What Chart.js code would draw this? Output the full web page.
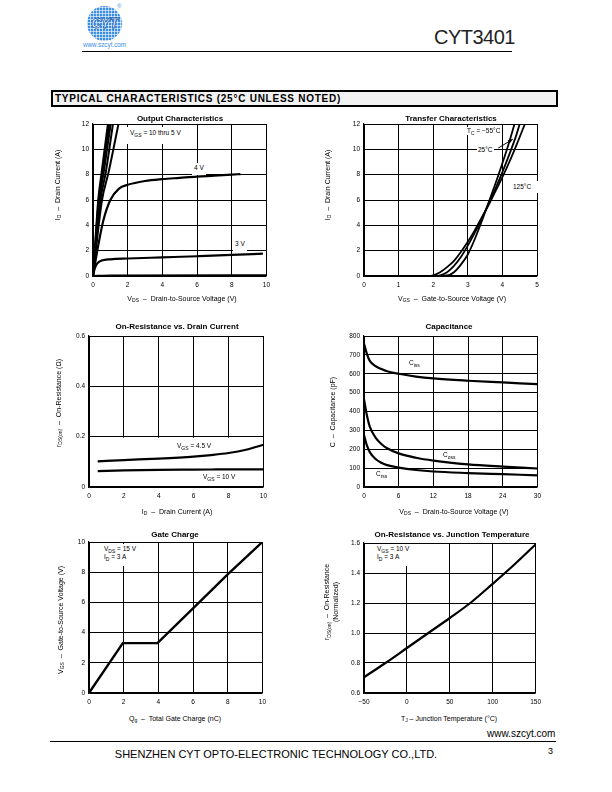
<!DOCTYPE html>
<html>
<head>
<meta charset="utf-8">
<script src="https://cdn.jsdelivr.net/npm/chart.js@4.4.1/dist/chart.umd.min.js"></script>
<style>
body{margin:0;background:#fff;font-family:"Liberation Sans",Arial,sans-serif;color:#000}
#page{position:relative;width:612px;height:792px;overflow:hidden;background:#fff}
#page canvas{position:absolute}
.abs{position:absolute;white-space:nowrap}
.ttl{font-weight:bold;font-size:8px;transform:translate(-50%,-50%)}
.xt{font-size:7px;transform:translate(-50%,-50%)}
.yt{font-size:7px;transform:translate(-50%,-50%) rotate(-90deg);text-align:center;line-height:9px}
.note{font-size:6.5px;background:#fff;line-height:8px}
sub{font-size:5px;vertical-align:-1.5px;line-height:0}
#logo{left:87px;top:6px;width:35px;height:35px;border-radius:50%;background-color:#3b8ee0;
  background-image:repeating-linear-gradient(0deg,rgba(255,255,255,.6) 0 1px,transparent 1px 3px),
  repeating-linear-gradient(90deg,rgba(255,255,255,.6) 0 1px,transparent 1px 3px);
  color:#fff;font:bold italic 14px "Liberation Sans",Arial,sans-serif;text-align:center;line-height:35px;
  -webkit-text-stroke:0.8px #1c5fb0;letter-spacing:-0.5px}
</style>
</head>
<body>
<div id="page">
  <div id="logo" class="abs">CYT</div>
  <div class="abs" style="left:117px;top:3px;font-size:6px;color:#3b8ee0">®</div>
  <div class="abs" style="left:83px;top:41px;font-size:6.3px;color:#3b8ee0">www.szcyt.com</div>
  <div class="abs" style="left:434px;top:26px;font-size:20px;letter-spacing:-0.5px;color:#222">CYT3401</div>
  <div class="abs" style="left:82px;top:51px;width:430px;height:0;border-top:1.3px solid #000"></div>

  <div class="abs" style="left:51px;top:90px;width:503px;height:13px;border:2.5px solid #000;background:#f2f2f2"></div>
  <div class="abs" style="left:55px;top:93px;font-size:10px;font-weight:bold;letter-spacing:0.75px;line-height:12px">TYPICAL CHARACTERISTICS (25°C UNLESS NOTED)</div>

  <!-- chart titles -->
  <div class="abs ttl" style="left:180px;top:118px">Output Characteristics</div>
  <div class="abs ttl" style="left:451px;top:118px">Transfer Characteristics</div>
  <div class="abs ttl" style="left:177px;top:326px">On-Resistance vs. Drain Current</div>
  <div class="abs ttl" style="left:449px;top:326px">Capacitance</div>
  <div class="abs ttl" style="left:175px;top:534px">Gate Charge</div>
  <div class="abs ttl" style="left:452px;top:534px">On-Resistance vs. Junction Temperature</div>

  <!-- axis titles -->
  <div class="abs xt" style="left:182px;top:298px">V<sub>DS</sub> &nbsp;–&nbsp; Drain-to-Source Voltage (V)</div>
  <div class="abs yt" style="left:57px;top:185px">I<sub>D</sub> &nbsp;–&nbsp; Drain Current (A)</div>
  <div class="abs xt" style="left:452px;top:298px">V<sub>GS</sub> &nbsp;–&nbsp; Gate-to-Source Voltage (V)</div>
  <div class="abs yt" style="left:327px;top:185px">I<sub>D</sub> &nbsp;–&nbsp; Drain Current (A)</div>
  <div class="abs xt" style="left:177px;top:511px">I<sub>D</sub> &nbsp;–&nbsp; Drain Current (A)</div>
  <div class="abs yt" style="left:58px;top:403px">r<sub>DS(on)</sub> &nbsp;–&nbsp; On-Resistance (Ω)</div>
  <div class="abs xt" style="left:454px;top:511px">V<sub>DS</sub> &nbsp;–&nbsp; Drain-to-Source Voltage (V)</div>
  <div class="abs yt" style="left:332px;top:412px">C &nbsp;–&nbsp; Capacitance (pF)</div>
  <div class="abs xt" style="left:175px;top:718px">Q<sub>g</sub> &nbsp;–&nbsp; Total Gate Charge (nC)</div>
  <div class="abs yt" style="left:60px;top:620px">V<sub>GS</sub> &nbsp;–&nbsp; Gate-to-Source Voltage (V)</div>
  <div class="abs xt" style="left:449px;top:718px">T<sub>J</sub> – Junction Temperature (°C)</div>
  <div class="abs yt" style="left:331px;top:602px">r<sub>DS(on)</sub> &nbsp;–&nbsp; On-Resistance<br>(Normalized)</div>

  <!-- notes -->
  <div class="abs note" style="left:126px;top:127px;padding:2px 3px 7px 4px">V<sub>GS</sub> = 10 thru 5 V</div>
  <div class="abs note" style="left:192px;top:163px;padding:1px 2px 3px">4 V</div>
  <div class="abs note" style="left:233px;top:238px;padding:2px 2px 4px">3 V</div>
  <div class="abs note" style="left:466px;top:127px;padding:0 1px">T<sub>C</sub> = −55°C</div>
  <div class="abs note" style="left:477px;top:146px;padding:0 1px">25°C</div>
  <div class="abs note" style="left:511px;top:181px;padding:2px 14px 2px 2px">125°C</div>
  <div class="abs" style="left:177px;top:442px;font-size:6.5px">V<sub>GS</sub> = 4.5 V</div>
  <div class="abs" style="left:203px;top:473px;font-size:6.5px">V<sub>GS</sub> = 10 V</div>
  <div class="abs" style="left:409px;top:359px;font-size:6.5px">C<sub>iss</sub></div>
  <div class="abs" style="left:443px;top:451px;font-size:6.5px">C<sub>oss</sub></div>
  <div class="abs" style="left:376px;top:470px;font-size:6.5px">C<sub>rss</sub></div>
  <div class="abs note" style="left:101px;top:544px;padding:1px 3px 5px 3px">V<sub>DS</sub> = 15 V<br>I<sub>D</sub> = 3 A</div>
  <div class="abs note" style="left:374px;top:544px;padding:1px 3px 5px 3px">V<sub>GS</sub> = 10 V<br>I<sub>D</sub> = 3 A</div>

  <!-- footer -->
  <div class="abs" style="left:487px;top:728px;font-size:10px">www.szcyt.com</div>
  <div class="abs" style="left:50px;top:741px;width:506px;height:0;border-top:1.3px solid #000"></div>
  <div class="abs" style="left:276px;top:754px;font-size:11px;transform:translate(-50%,-50%)">SHENZHEN CYT OPTO-ELECTRONIC TECHNOLOGY CO.,LTD.</div>
  <div class="abs" style="left:548px;top:746px;font-size:9px">3</div>
</div>

<script>
// Output characteristics (VGS curves)
var steepY = [0, 2, 6, 8.2, 12];
var v10X = [0, 0.1, 0.3, 0.5, 0.86];
var v8X = [0, 0.11, 0.33, 0.55, 0.93];
var v7X = [0, 0.12, 0.37, 0.62, 1.02];
var v6X = [0, 0.14, 0.43, 0.74, 1.15];
var v5X = [0, 0.16, 0.52, 0.9, 1.47];
var v4X = [0, 0.3, 0.6, 1, 1.5, 2, 3, 4, 5, 6, 7, 8, 8.5];
var v4Y = [0, 2.4, 4.4, 6.0, 6.9, 7.2, 7.5, 7.65, 7.75, 7.85, 7.92, 8.0, 8.05];
var v3X = [0, 0.1, 0.25, 0.5, 1, 2, 4, 6, 8, 9.8];
var v3Y = [0, 0.6, 1.0, 1.22, 1.32, 1.38, 1.47, 1.56, 1.66, 1.77];
var v2X = [0, 1, 10];
var v2Y = [0, 0.03, 0.05];

// Transfer characteristics
var tm55X = [0, 2.0, 2.4, 2.6, 2.8, 3.0, 3.2, 3.4, 3.6, 3.8, 4.0, 4.2, 4.35];
var tm55Y = [0, 0, 0.05, 0.3, 0.9, 1.7, 2.9, 4.3, 5.8, 7.3, 8.9, 10.6, 12];
var t25X = [0, 2.0, 2.2, 2.4, 2.6, 2.8, 3.0, 3.2, 3.4, 3.6, 3.8, 4.0, 4.2, 4.4, 4.5];
var t25Y = [0, 0, 0.05, 0.3, 0.8, 1.5, 2.4, 3.4, 4.5, 5.7, 6.9, 8.2, 9.6, 11.1, 12];
var t125X = [0, 1.85, 2.0, 2.2, 2.4, 2.6, 2.8, 3.0, 3.2, 3.4, 3.6, 3.8, 4.0, 4.2, 4.4, 4.65];
var t125Y = [0, 0, 0.05, 0.3, 0.7, 1.2, 1.9, 2.7, 3.6, 4.6, 5.6, 6.7, 7.8, 9.0, 10.3, 12];

// On-resistance vs drain current
var rdsId = [0.5, 2, 4, 6, 7, 8, 9, 10];
var rds45 = [0.102, 0.107, 0.113, 0.121, 0.127, 0.135, 0.148, 0.168];
var rds10 = [0.063, 0.066, 0.068, 0.069, 0.0695, 0.070, 0.070, 0.070];

// Capacitance
var capV = [0, 0.5, 1, 2, 3, 4, 6, 9, 12, 18, 24, 30];
var ciss = [760, 705, 668, 640, 625, 613, 600, 585, 575, 563, 554, 545];
var coss = [465, 380, 320, 262, 228, 205, 178, 155, 140, 120, 108, 98];
var crss = [275, 220, 185, 148, 128, 116, 103, 90, 82, 74, 68, 62];

// Gate charge
var gcQ = [0, 1.95, 3.95, 6, 8, 10];
var gcV = [0, 3.3, 3.3, 5.6, 7.85, 10];

// On-resistance vs junction temperature
var tjT = [-50, -25, 0, 25, 50, 75, 100, 125, 150];
var tjR = [0.705, 0.8, 0.9, 1.0, 1.1, 1.205, 1.328, 1.455, 1.59];

Chart.defaults.font.family = '"Liberation Sans", Arial, sans-serif';
Chart.defaults.font.size = 6.5;
Chart.defaults.color = '#000';

function pts(xs, ys) {
    return xs.map(function(x, i) { return {x: x, y: ys[i]}; });
}

function curve(xs, ys, w, straight) {
    return {
        data: pts(xs, ys),
        borderColor: '#000',
        borderWidth: w || 2.2,
        pointRadius: 0,
        fill: false,
        cubicInterpolationMode: straight ? 'default' : 'monotone',
        tension: 0
    };
}

function plainNum(v) {
    return String(Math.round(v * 100) / 100);
}

// box = [left, top, right, bottom] of the plot area on the page
function makeChart(box, xs, ys, datasets, extra) {
    var padL = 34, padT = 8, padR = 8, padB = 18;
    var c = document.createElement('canvas');
    var w = box[2] - box[0] + padL + padR, h = box[3] - box[1] + padT + padB;
    c.width = w; c.height = h;
    c.style.left = (box[0] - padL) + 'px';
    c.style.top = (box[1] - padT) + 'px';
    c.style.width = w + 'px';
    c.style.height = h + 'px';
    var page = document.getElementById('page');
    page.insertBefore(c, page.firstChild);
    return new Chart(c.getContext('2d'), {
        type: 'line',
        data: {datasets: datasets},
        options: {
            responsive: false,
            devicePixelRatio: 1,
            animation: false,
            layout: {padding: {top: padT, right: padR, left: 0, bottom: 0}},
            plugins: {legend: {display: false}, tooltip: {enabled: false}},
            scales: {
                x: {
                    type: 'linear', min: xs[0], max: xs[1],
                    ticks: {stepSize: xs[2], padding: 5, callback: xs[3] || plainNum},
                    grid: {color: '#000', lineWidth: 1, drawTicks: false},
                    border: {color: '#000', width: 1.2},
                    afterFit: function(s) { s.height = padB; }
                },
                y: {
                    type: 'linear', min: ys[0], max: ys[1],
                    ticks: {stepSize: ys[2], padding: 4, callback: ys[3] || plainNum},
                    grid: {color: '#000', lineWidth: 1, drawTicks: false},
                    border: {color: '#000', width: 1.2},
                    afterFit: function(s) { s.width = padL; }
                }
            }
        },
        plugins: extra || []
    });
}

// chart1 - output characteristics
makeChart([93, 124, 267, 276], [0, 10, 2], [0, 12, 2], [
    curve(v10X, steepY, 2), curve(v8X, steepY, 2), curve(v7X, steepY, 2),
    curve(v6X, steepY, 2), curve(v5X, steepY, 2),
    curve(v4X, v4Y), curve(v3X, v3Y), curve(v2X, v2Y)
]);

// chart2 - transfer characteristics, with the arrow from the 25C label
var arrow = {
    id: 'arrow',
    afterDatasetsDraw: function(chart) {
        var xs = chart.scales.x, ys = chart.scales.y, ctx = chart.ctx;
        var x0 = xs.getPixelForValue(3.88), y0 = ys.getPixelForValue(10.1);
        var x1 = xs.getPixelForValue(4.3), y1 = ys.getPixelForValue(10.8);
        var a = Math.atan2(y1 - y0, x1 - x0);
        ctx.save();
        ctx.strokeStyle = '#000'; ctx.fillStyle = '#000'; ctx.lineWidth = 1;
        ctx.beginPath(); ctx.moveTo(x0, y0); ctx.lineTo(x1, y1); ctx.stroke();
        ctx.beginPath();
        ctx.moveTo(x1, y1);
        ctx.lineTo(x1 - 5 * Math.cos(a - 0.4), y1 - 5 * Math.sin(a - 0.4));
        ctx.lineTo(x1 - 5 * Math.cos(a + 0.4), y1 - 5 * Math.sin(a + 0.4));
        ctx.closePath(); ctx.fill();
        ctx.restore();
    }
};
makeChart([364, 124, 537, 276], [0, 5, 1], [0, 12, 2], [
    curve(tm55X, tm55Y, 1.8), curve(t25X, t25Y, 1.8), curve(t125X, t125Y, 1.8)
], [arrow]);

// chart3 - on-resistance vs drain current (no vertical grid under 0.2)
var lowBand = {
    id: 'lowBand',
    beforeDatasetsDraw: function(chart) {
        var a = chart.chartArea, ys = chart.scales.y, ctx = chart.ctx;
        var top = ys.getPixelForValue(0.2);
        ctx.save();
        ctx.fillStyle = '#fff';
        ctx.fillRect(a.left + 1, top + 1, a.right - a.left - 2, a.bottom - top - 2);
        ctx.restore();
    }
};
makeChart([89, 336, 264, 487], [0, 10, 2], [0, 0.6, 0.2], [
    curve(rdsId, rds45), curve(rdsId, rds10)
], [lowBand]);

// chart4 - capacitance
makeChart([364, 336, 538, 487], [0, 30, 6], [0, 800, 100], [
    curve(capV, ciss), curve(capV, coss), curve(capV, crss)
]);

// chart5 - gate charge
makeChart([89, 542, 263, 693], [0, 10, 2], [0, 10, 2], [
    curve(gcQ, gcV, 2.4, true)
]);

// chart6 - on-resistance vs junction temperature
makeChart([364, 543, 538, 693],
    [-50, 150, 50, function(v) { return v < 0 ? '\u2212' + Math.abs(v) : String(v); }],
    [0.6, 1.6, 0.2, function(v) { return v.toFixed(1); }],
    [curve(tjT, tjR)]);
</script>
</body>
</html>
